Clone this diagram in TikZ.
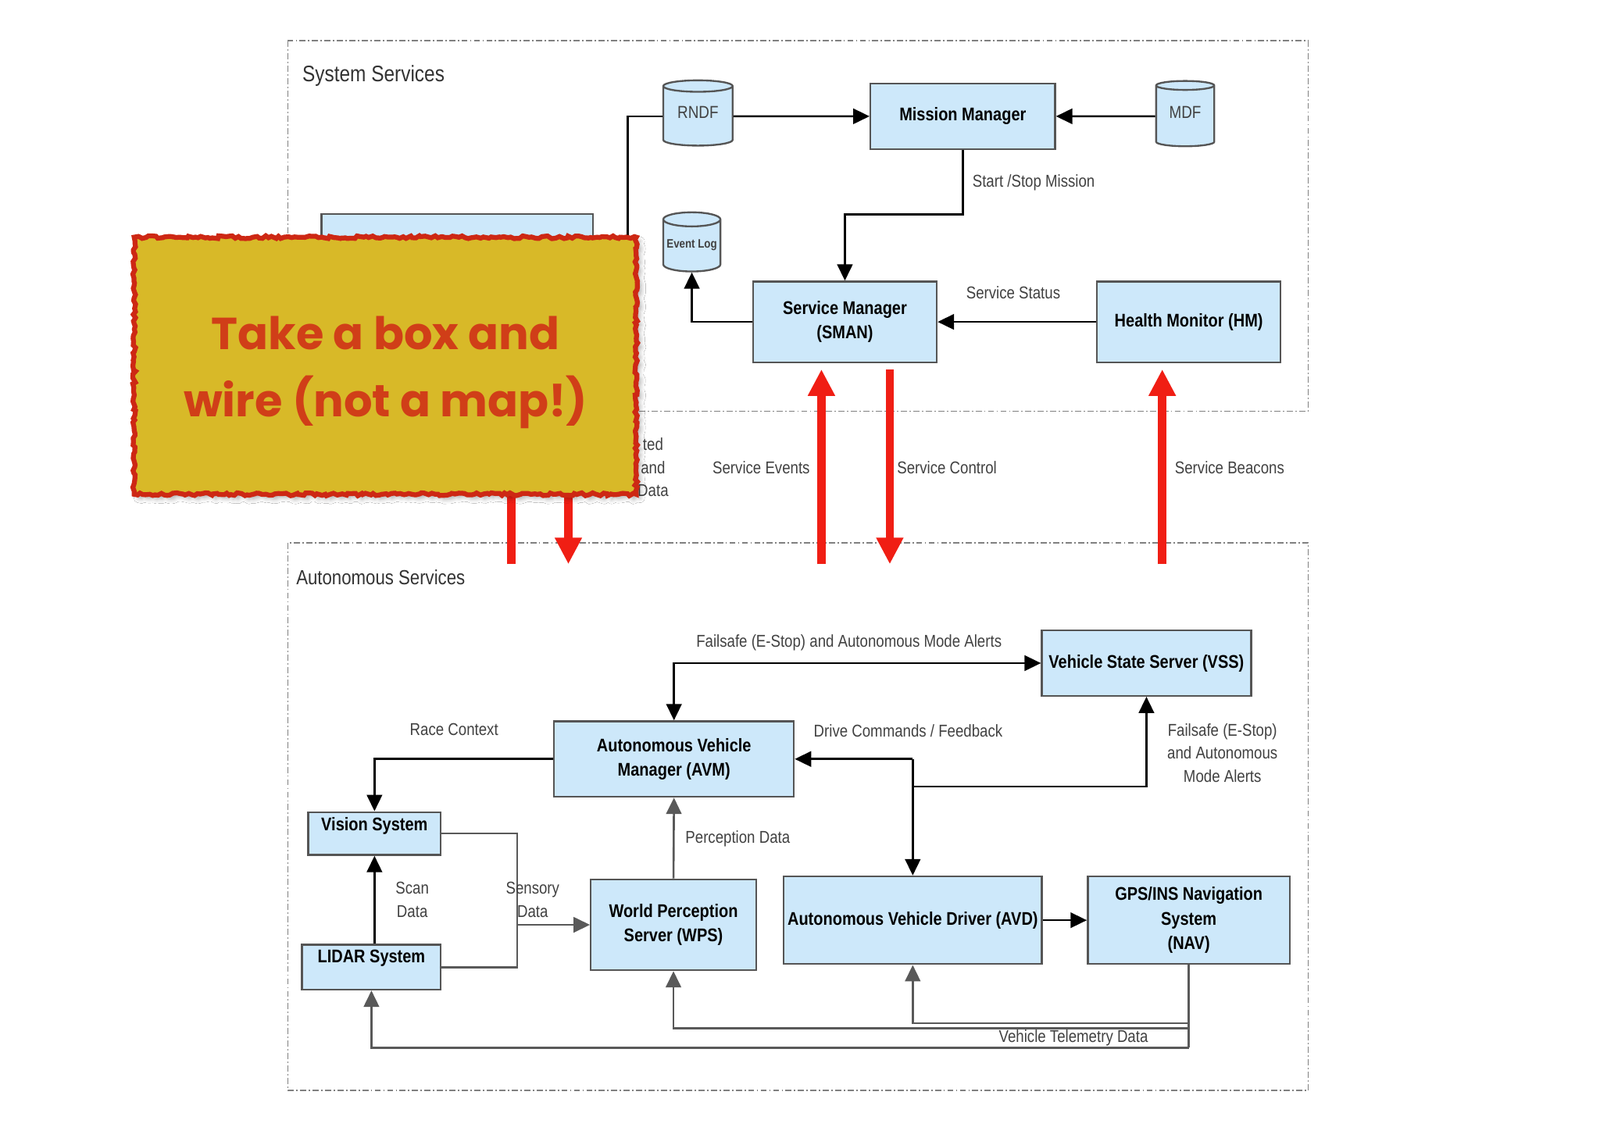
\documentclass[tikz,border=0pt]{standalone}
\usepackage{fontspec}
\setmainfont{Liberation Sans}[FakeStretch=0.85]
\newfontfamily\notefont{Poppins}
\usetikzlibrary{arrows.meta,shapes.geometric,decorations.pathmorphing,shadows.blur}
\definecolor{boxblue}{RGB}{205,232,250}
\definecolor{boxline}{RGB}{85,85,85}
\definecolor{lblgray}{RGB}{65,65,65}
\definecolor{noteyellow}{RGB}{216,185,40}
\definecolor{notered}{RGB}{205,40,20}
\definecolor{notetext}{RGB}{208,62,24}
\definecolor{arrowred}{RGB}{240,30,20}
\begin{document}
\begin{tikzpicture}[x=0.5pt,y=-0.5pt,
	box/.style={draw=boxline, line width=0.9pt, fill=boxblue, align=center, inner sep=0pt, font=\fontsize{9}{12}\selectfont\bfseries},
	topbox/.style={box, text height=6.5pt},
	db/.style={cylinder, shape border rotate=90, aspect=0.28, draw=boxline, line width=0.9pt, fill=boxblue, inner sep=0pt, text=lblgray, text height=6pt, text depth=4pt},
	lbl/.style={text=lblgray, font=\fontsize{8.4}{11.3}\selectfont, align=center, inner sep=0pt},
	region/.style={draw=gray, line width=0.6pt, dash pattern=on 3pt off 1.2pt on 0.7pt off 1.2pt},
	wire/.style={line width=1pt, black},
	gwire/.style={line width=1pt, black!65},
	arr/.style={-{Triangle[length=8pt,width=7.5pt]}},
	arrboth/.style={{Triangle[length=8pt,width=7.5pt]}-{Triangle[length=8pt,width=7.5pt]}},
	bigred/.style={line width=4pt, arrowred, -{Triangle[length=13pt,width=12.5pt]}},
	]
	\useasboundingbox (0,0) rectangle (1568,1108);
	\fill[white] (0,0) rectangle (1568,1108);

	% dashed service regions
	\draw[region] (282,40) rectangle (1282,403);
	\draw[region] (282,532) rectangle (1282,1069);
	\node[anchor=west, inner sep=0pt, font=\fontsize{11}{13}\selectfont, text=black!80] (syslbl) at (296,74) {System Services};
	\node[anchor=west, inner sep=0pt, font=\fontsize{10}{12}\selectfont, text=black!80] (autlbl) at (290,566) {Autonomous Services};

	% system services
	\node[box, minimum width=90.5pt, minimum height=32pt] (mm) at (943.5,114) {Mission Manager};
	\node[db, minimum width=34pt, minimum height=32pt, font=\fontsize{8.5}{10}\selectfont] (rndf) at (684,114) {RNDF};
	\node[db, minimum width=28.5pt, minimum height=32pt, font=\fontsize{8.5}{10}\selectfont] (mdf) at (1161.5,114) {MDF};
	\node[db, minimum width=28pt, minimum height=29pt, font=\fontsize{6}{7}\selectfont\bfseries] (evlog) at (678,241) {Event Log};
	\node[box, minimum width=90pt, minimum height=39.5pt] (sman) at (828,315.5) {Service Manager\\(SMAN)};
	\node[box, minimum width=90pt, minimum height=39.5pt] (hm) at (1165,315.5) {Health Monitor (HM)};
	\node[box, minimum width=133pt, minimum height=45pt] (hidbox) at (448,255) {};
	\coordinate (hid) at (615,320);

	\draw[wire, arr] (rndf) -- (mm);
	\draw[wire, arr] (mdf) -- (mm);
	\draw[wire] (hid) |- (rndf.west);
	\draw[wire, arr] (mm.south) -- (943.5,210) -| (sman.north);
	\draw[wire, arr] (hm) -- (sman);
	\draw[wire, arr] (sman.west) -| (evlog.south);
	\node[lbl] (l1) at (1013,179) {Start /Stop Mission};
	\node[lbl] (l2) at (993,287) {Service Status};

	% red service links
	\coordinate (e1) at (805,553);  \coordinate (e2) at (805,362);
	\coordinate (c1) at (872,362);  \coordinate (c2) at (872,553);
	\coordinate (b1) at (1139,553); \coordinate (b2) at (1139,362);
	\coordinate (u1) at (501,553);  \coordinate (u2) at (501,400);
	\coordinate (d1) at (557,400);  \coordinate (d2) at (557,553);
	\draw[bigred] (e1) -- (e2);
	\draw[bigred] (c1) -- (c2);
	\draw[bigred] (b1) -- (b2);
	\draw[bigred] (u1) -- (u2);
	\draw[bigred] (d1) -- (d2);
	\node[lbl] (l3) at (746,458) {Service Events};
	\node[lbl] (l4) at (928,458) {Service Control};
	\node[lbl] (l5) at (1205,458) {Service Beacons};
	\node[lbl] (l6) at (640,458) {ted\\and\\Data};

	% autonomous services
	\node[box, minimum width=102.5pt, minimum height=32pt] (vss) at (1123.5,650) {Vehicle State Server (VSS)};
	\node[box, minimum width=117.5pt, minimum height=37pt] (avm) at (660.5,744) {Autonomous Vehicle\\Manager (AVM)};
	\node[topbox, text depth=9.1pt, minimum width=65pt, minimum height=21pt] (vision) at (367,817) {Vision System};
	\node[topbox, text depth=11.1pt, minimum width=68pt, minimum height=22pt] (lidar) at (364,948) {LIDAR System};
	\node[box, minimum width=81pt, minimum height=44.5pt] (wps) at (660,906.5) {World Perception\\Server (WPS)};
	\node[box, minimum width=126.5pt, minimum height=43pt] (avd) at (894.5,902) {Autonomous Vehicle Driver (AVD)};
	\node[box, minimum width=99pt, minimum height=43pt] (nav) at (1165,902) {GPS/INS Navigation\\System\\(NAV)};

	\draw[wire, arrboth] (avm.north) |- (vss.west);
	\draw[wire, arr] (avm.west) -| (vision.north);
	\coordinate (jn) at (avd.north |- avm.east);
	\coordinate (jv) at (894.5,771);
	\draw[wire, arr] (jn) -- (avm.east);
	\draw[wire, arr] (jn) -- (avd.north);
	\draw[wire, arr] (jv) -| (vss.south);
	\draw[wire, arr] (lidar.north -| vision.south) -- (vision.south);
	\coordinate (sj) at (506,906.5);
	\draw[gwire] (vision.east) -- ++(74,0) |- (lidar.east);
	\draw[gwire, arr] (sj) -- (wps.west);
	\draw[gwire, arr] (wps.north) -- (avm.south);
	\draw[wire, arr] (avd) -- (nav);
	\coordinate (t1) at (1165,1003);
	\coordinate (t2) at (1165,1008);
	\coordinate (t3) at (1165,1027);
	\draw[gwire] (nav.south) -- (t3);
	\draw[gwire, arr] (t1) -| (avd.south);
	\draw[gwire, arr] (t2) -| (wps.south);
	\draw[gwire, arr] (t3) -| (lidar.south);

	\node[lbl] (l7) at (832,630) {Failsafe (E-Stop) and Autonomous Mode Alerts};
	\node[lbl] (l8) at (445,715) {Race Context};
	\node[lbl] (l9) at (890,716) {Drive Commands / Feedback};
	\node[lbl] (l10) at (1198,738) {Failsafe (E-Stop)\\and Autonomous\\Mode Alerts};
	\node[lbl] (l11) at (404,882) {Scan\\Data};
	\node[lbl] (l12) at (522,882) {Sensory\\Data};
	\node[lbl] (l13) at (723,822) {Perception Data};
	\node[lbl] (l14) at (1052,1017) {Vehicle Telemetry Data};

	% sticky note on top
	\node[draw=notered, fill=noteyellow, line width=2.4pt, minimum width=246pt, minimum height=126pt,
		decorate, decoration={random steps, segment length=1.5pt, amplitude=0.7pt},
		blur shadow={shadow xshift=2pt, shadow yshift=-2pt, shadow opacity=30}] (note) at (377.5,358.5) {};
	\node[text=notetext, align=center, font=\notefont\fontsize{22}{33}\selectfont\bfseries] (notetxt) at (378,365)
		{Take a box and\\wire (not a map!)};
\end{tikzpicture}
\end{document}
